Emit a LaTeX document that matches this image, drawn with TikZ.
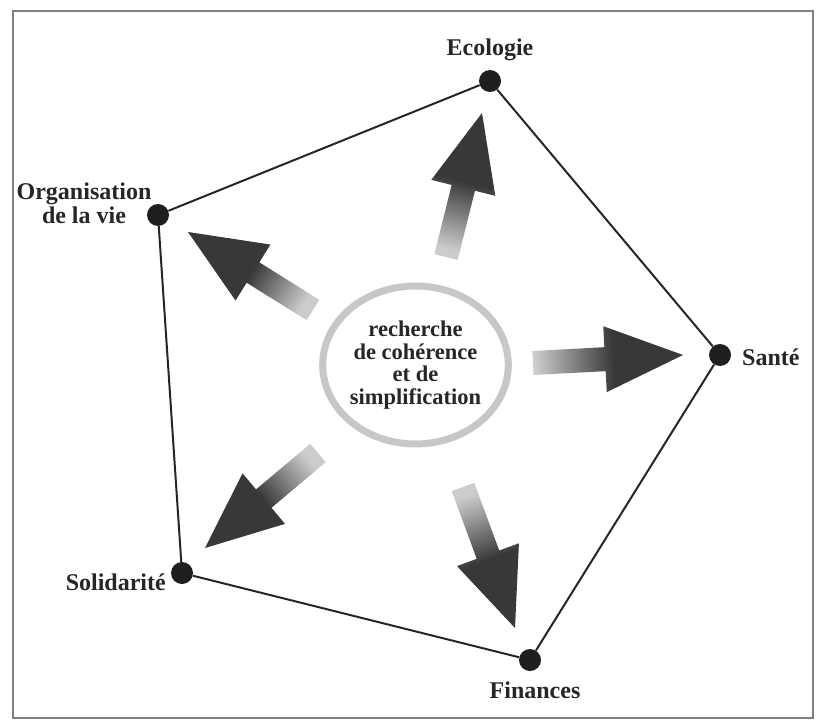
\documentclass[tikz,border=0pt]{standalone}
\usepackage{fontspec}
\setmainfont{Liberation Serif}
\usetikzlibrary{calc,shapes.geometric}
\definecolor{ashlight}{gray}{0.80}
\definecolor{ashdark}{gray}{0.22}
\pgfdeclareverticalshading{arrowshade}{100bp}{color(0bp)=(ashlight); color(25bp)=(ashlight); color(52bp)=(ashdark); color(100bp)=(ashdark)}
\newcommand\fatarrow[3]{%
  \shade[shading=arrowshade, shading angle=#3]
    ($(#1)!12pt!90:(#2)$) -- ($(#1)!0.48!(#2)!12pt!90:(#2)$) -- ($(#1)!0.48!(#2)!33pt!90:(#2)$) -- (#2)
    -- ($(#1)!0.48!(#2)!33pt!-90:(#2)$) -- ($(#1)!0.48!(#2)!12pt!-90:(#2)$) -- ($(#1)!12pt!-90:(#2)$) -- cycle;}
\begin{document}
\begin{tikzpicture}[x=1pt,y=-1pt,
  dot/.style={circle,fill=black!88,minimum size=22pt,inner sep=0pt},
  edge/.style={draw=black!85,line width=2pt},
  lab/.style={font=\fontsize{24}{24}\selectfont\bfseries, inner sep=0pt, text=black!85},
  core/.style={ellipse,draw=black!22,line width=7pt,minimum width=184pt,minimum height=158pt,inner sep=0pt,
    align=center,font=\fontsize{22.5}{22.5}\selectfont\bfseries,text=black!85}]
\useasboundingbox (0,0) rectangle (816,722);
\fill[white] (0,0) rectangle (816,722);
\draw[black!50,line width=1.6pt] (13,11) rectangle (813,718);
% vertices
\node[dot] (eco) at (490,81) {};
\node[dot] (san) at (720,355) {};
\node[dot] (fin) at (530,660) {};
\node[dot] (sol) at (182,573) {};
\node[dot] (org) at (158,215) {};
\draw[edge] (eco) -- (san) -- (fin) -- (sol) -- (org) -- (eco);
% labels
\node[lab] (lEco) at (490,50) {Ecologie};
\node[lab,anchor=west] (lSan) at (742,357) {Santé};
\node[lab] (lFin) at (535,690) {Finances};
\node[lab,anchor=east] (lSol) at (166,582) {Solidarité};
\node[lab,align=center] (lOrg) at (84,203) {Organisation\\de la vie};
% centre
\node[core] (core) at (415.5,365) {recherche\\de cohérence\\et de\\simplification};
% arrows
\coordinate (t1) at (446,257); \coordinate (p1) at (482,113);
\coordinate (t2) at (533,363); \coordinate (p2) at (683,355);
\coordinate (t3) at (463,487); \coordinate (p3) at (515,628);
\coordinate (t4) at (318,453); \coordinate (p4) at (205,548);
\coordinate (t5) at (313,310); \coordinate (p5) at (188,232);
\fatarrow{t1}{p1}{-14.6}
\fatarrow{t2}{p2}{-87}
\fatarrow{t3}{p3}{-159.8}
\fatarrow{t4}{p4}{130.1}
\fatarrow{t5}{p5}{58}
\end{tikzpicture}
\end{document}
